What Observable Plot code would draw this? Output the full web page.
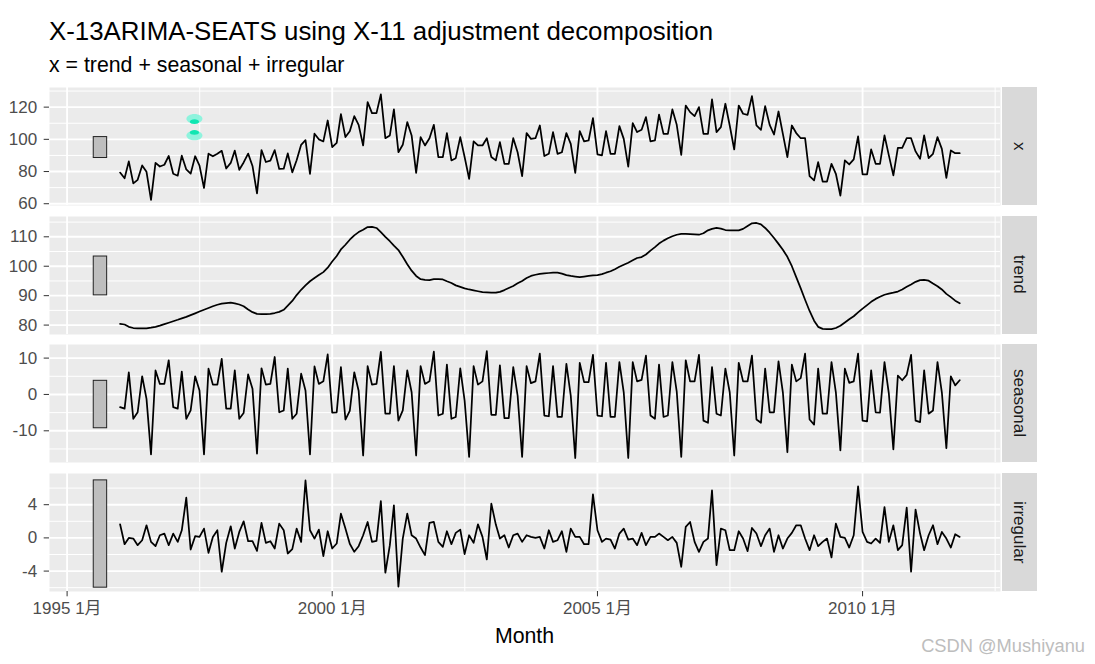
<!DOCTYPE html>
<html><head><meta charset="utf-8">
<script src="https://cdn.jsdelivr.net/npm/d3@7"></script>
<script src="https://cdn.jsdelivr.net/npm/@observablehq/plot@0.6"></script>
<style>
body{margin:0;background:#fff;}
#root{position:relative;width:1095px;height:664px;overflow:hidden;font-family:"Liberation Sans",Arial,"Noto Sans CJK SC",sans-serif;}
.abs{position:absolute;white-space:nowrap;line-height:1;}
.strip{position:absolute;background:#D9D9D9;color:#1A1A1A;font-size:17px;display:flex;align-items:center;justify-content:center;}
.strip span{writing-mode:vertical-rl;line-height:1;}
</style></head><body><div id="root"></div>
<script>
// ---------- data ----------
const titleText = "X-13ARIMA-SEATS using X-11 adjustment decomposition";
const subtitleText = "x = trend + seasonal + irregular";
const xAxisTitle = "Month";
const watermark = "CSDN @Mushiyanu";
const firstYear = 1996; // first observation 1996 Jan, monthly
const components = ["x", "trend", "seasonal", "irregular"];

const xValues = [
79.35,75.78,86.32,72.60,74.86,83.81,79.80,62.41,85.41,83.11,84.21,89.70,
78.64,77.42,89.86,81.27,78.68,89.51,83.67,69.80,91.09,89.43,91.04,92.87,
81.87,85.36,92.98,81.09,85.64,91.14,83.46,66.37,93.34,85.93,86.81,93.30,
81.59,81.77,91.24,79.45,86.99,96.6,99.5,78.6,103.5,100.0,98.7,111.7,
95.2,97.8,115.7,101.4,105.0,114.4,109.0,96.2,123.1,116.3,116.3,127.9,
100.7,102.4,118.6,92.0,96.6,110.7,102.4,79.2,101.4,96.2,100.7,109.0,
89.0,89.0,103.9,86.9,88.3,101.4,89.0,75.5,98.7,96.2,96.2,100.7,
89.0,86.9,98.3,84.8,84.8,100.7,92.0,77.1,103.9,100.3,100.7,108.6,
89.6,91.0,104.5,91.0,92.0,103.9,97.2,79.2,105.1,98.7,99.3,113.2,
90.6,90.0,105.1,91.0,91.0,108.2,100.3,83.1,110.1,104.5,105.9,113.8,
98.7,99.3,115.4,103.4,103.4,118.6,109.0,90.3,121.0,116.9,114.4,120.0,
103.4,103.4,124.8,104.5,107.6,122.1,108.6,93.7,121.0,115.9,115.2,126.8,
108.6,105.9,120.6,109.0,103.0,117.3,103.4,89.0,108.6,103.9,100.7,100.7,
77.1,74.5,85.8,73.8,73.8,84.8,78.6,65.1,86.9,84.4,87.5,101.8,
78.2,78.2,93.7,84.8,84.8,102.4,90.0,77.6,94.7,94.7,100.7,100.7,
92.5,87.9,102.4,88.3,91.0,101.4,94.1,76.1,93.1,91.4,91.4];

const trendValues = [
80.4,80.2,79.4,79.0,78.9,78.9,78.9,79.1,79.4,79.8,80.3,80.8,
81.3,81.8,82.3,82.8,83.4,84.0,84.6,85.2,85.8,86.4,86.9,87.3,
87.5,87.6,87.4,87.0,86.4,85.3,84.4,83.8,83.7,83.7,83.8,84.1,
84.5,85.2,86.6,88.2,90.2,92.0,93.5,94.9,96.0,97.0,98.0,99.5,
101.6,103.5,105.7,107.3,109.0,110.5,111.6,112.4,113.3,113.4,113.0,111.6,
110.0,108.5,107.0,105.5,103.2,100.7,98.5,96.7,95.6,95.4,95.3,95.6,
95.6,95.5,94.9,94.3,93.5,93.0,92.5,92.1,91.8,91.5,91.2,91.1,
91.0,91.0,91.3,91.9,92.6,93.3,94.2,95.0,96.0,96.7,97.1,97.4,
97.6,97.7,97.8,97.8,97.5,97.0,96.7,96.5,96.3,96.5,96.7,96.9,
97.0,97.3,97.8,98.3,99.0,99.8,100.5,101.2,102.0,102.8,103.1,104.0,
105.3,106.5,107.7,108.7,109.5,110.2,110.7,111.0,111.0,110.9,110.8,110.7,
111.2,112.2,112.7,113.0,112.8,112.3,112.2,112.2,112.2,112.7,113.7,114.6,
114.7,114.2,113.0,111.4,109.6,107.6,105.6,103.2,100.0,96.3,92.5,88.6,
84.8,81.5,79.4,78.7,78.6,78.6,79.0,79.8,80.9,82.0,83.0,84.3,
85.6,86.8,87.9,88.9,89.6,90.3,90.7,91.0,91.4,92.1,93.0,93.8,
94.7,95.3,95.4,95.1,94.1,93.2,92.1,90.6,89.5,88.3,87.4];

const seasonalValues = [
-3.5,-3.9,6.1,-6.7,-4.9,5.0,-1.2,-16.5,6.6,2.9,2.9,9.4,
-3.5,-3.9,6.3,-6.7,-4.4,5.0,1.1,-16.5,7.1,2.7,2.7,9.8,
-3.9,-3.9,6.6,-6.7,-5.1,5.5,1.6,-16.3,7.2,2.7,2.9,10.3,
-4.9,-4.4,7.1,-6.7,-5.3,5.7,1.1,-16.5,7.7,2.9,3.6,11.0,
-5.0,-4.9,7.5,-6.9,-4.5,6.1,1.0,-16.8,7.8,2.7,2.9,11.7,
-5.3,-5.3,7.8,-7.2,-4.4,6.6,0.6,-16.8,7.8,2.9,3.6,11.8,
-5.8,-5.3,8.2,-6.7,-6.2,7.2,-1.7,-17.2,7.8,2.7,3.6,11.9,
-5.6,-5.6,8.0,-6.5,-6.5,7.5,-0.3,-17.2,7.8,3.1,3.6,11.2,
-5.8,-6.0,7.8,-6.2,-6.2,8.4,-0.3,-17.5,8.7,3.4,3.4,10.9,
-5.8,-6.0,8.7,-6.2,-6.2,8.9,0.6,-17.5,8.9,3.6,4.0,10.7,
-5.8,-6.7,8.2,-6.2,-5.8,8.9,0.8,-17.2,9.4,3.6,3.6,10.9,
-7.2,-7.8,7.5,-5.3,-5.8,7.1,0.6,-16.8,8.7,3.6,3.6,10.7,
-6.9,-7.8,7.1,-4.9,-4.9,9.1,0.6,-15.9,8.2,3.6,4.5,11.2,
-6.9,-8.3,7.1,-5.3,-5.3,8.9,0.6,-15.4,7.1,3.2,3.6,11.2,
-7.2,-7.4,6.6,-4.9,-5.0,8.9,0.2,-15.1,5.2,3.9,5.4,10.9,
-7.2,-7.6,6.6,-5.3,-4.4,8.9,0.6,-14.8,5.0,2.5,3.9];

const irregularValues = [
1.64,-0.76,0,-0.08,-0.88,-0.28,1.52,-0.48,-1.0,0.32,0.52,-0.88,
0.52,-0.48,0.92,4.84,-1.4,0.2,0.12,1.12,-1.8,0.12,0.92,-4.08,
-0.6,1.4,-1.28,0.72,2.0,-0.4,-0.4,-1.56,1.8,-0.6,-0.4,-1.28,
1.72,0.92,-1.88,-1.36,1.12,-0.48,6.92,0.92,-0.08,1.0,-2.2,0.8,
-1.28,-0.68,2.92,1.12,-0.7,-1.68,-1.0,0.32,1.92,-0.48,-0.36,4.44,
-4.2,-0.88,3.92,-5.88,-0.08,2.92,0.32,-0.08,-1.16,-2.08,1.8,1.92,
-0.48,-1.08,0.8,-0.76,0.6,1.0,-1.96,0.32,-0.6,1.64,0.12,-2.6,
4.12,1.6,-0.08,0.32,-1.16,0.32,0.52,-0.48,0.32,0.12,0,0.12,
-1.28,0.92,-0.48,-0.28,0.8,-1.68,1.12,0.12,0.12,-0.76,-0.76,5.24,
0.92,-0.48,-0.08,-0.2,-1.28,0.52,1.12,-0.2,-0.08,-0.88,0.6,-0.88,
0.12,0.12,0.52,0.12,-0.28,0.12,-0.6,-3.48,1.32,1.92,-0.48,-1.68,
-0.48,-0.08,5.72,-3.28,1.12,0.92,-1.48,-1.48,0.8,-0.08,-1.6,1.2,
0.52,-1.0,0.32,1.12,-1.68,0.32,-1.28,-0.08,0.6,1.52,1.52,-0.08,
-1.48,0.32,-1.0,-0.48,-0.08,-2.36,1.72,0.12,0,-1.16,0.32,6.2,
0.72,-0.48,-0.68,-0.08,-0.6,3.72,-0.48,1.52,-1.48,-0.88,3.64,-4.08,
3.4,0.52,-1.48,0.32,1.52,-0.76,0.72,-0.08,-1.16,0.44,0.12];

// scale bars (one per panel, same data height)
const rangeBarLow  = [88.4, 90.1, -9.3, -6.0];
const rangeBarHigh = [101.4, 103.3, 3.75, 6.93];

// tick values
const xTickYears = [1995, 2000, 2005, 2010];
const xMinorYears = [1997.5, 2002.5, 2007.5, 2012.5];
const yTicksMajor = [[60,80,100,120],[80,90,100,110],[-10,0,10],[-4,0,4]];
const yTicksMinor = [[70,90,110,130],[85,95,105,115],[-15,-5,5],[-6,-2,2,6]];

// hourglass overlay seen in the first panel
const overlayYear = 1997.40;
const overlayOuter = [112.8, 102.4];
const overlayInner = [111.0, 104.3];

// ---------- helpers / layout ----------
function yearToDate(y){const yr=Math.floor(y);const t0=Date.UTC(yr,0,1),t1=Date.UTC(yr+1,0,1);return new Date(t0+(y-yr)*(t1-t0));}
const FONT = '"Liberation Sans", Arial, "Noto Sans CJK SC", sans-serif';
const root = document.getElementById("root");
const seriesList = [xValues, trendValues, seasonalValues, irregularValues];
const dates = xValues.map((_, i) => new Date(Date.UTC(firstYear, i, 1)));
const H = 118;
const tops = [87, 215.7, 344.4, 473.1];
const yDomains = [[58.9,132.2],[76.8,116.9],[-18.72,13.74],[-6.46,7.76]];
const xDomain = [yearToDate(1994.668), yearToDate(2012.601)];
const majorX = xTickYears.map(y => new Date(Date.UTC(y,0,1)));
const minorX = xMinorYears.map(yearToDate);
const barX1 = yearToDate(1995.503), barX2 = yearToDate(1995.756);

const ellipse = (ratio) => ({draw(ctx,size){const rx=Math.sqrt(size/Math.PI),ry=rx*ratio,k=0.5523;
  ctx.moveTo(rx,0);ctx.bezierCurveTo(rx,ry*k,rx*k,ry,0,ry);ctx.bezierCurveTo(-rx*k,ry,-rx,ry*k,-rx,0);
  ctx.bezierCurveTo(-rx,-ry*k,-rx*k,-ry,0,-ry);ctx.bezierCurveTo(rx*k,-ry,rx,-ry*k,rx,0);ctx.closePath();}});

function addDiv(cls, text, css){const d=document.createElement("div");d.className=cls;d.textContent=text;Object.assign(d.style,css);root.appendChild(d);return d;}

addDiv("abs", titleText, {left:"49px", top:"18.5px", fontSize:"25.85px", color:"#000"});
addDiv("abs", subtitleText, {left:"49px", top:"55px", fontSize:"21.3px", color:"#000"});

seriesList.forEach((vals, k) => {
  const isLast = k === 3;
  const data = vals.map((v, i) => ({date: dates[i], value: v}));
  const marks = [
    Plot.frame({fill:"#EBEBEB", stroke:null}),
    Plot.gridY(yTicksMinor[k], {stroke:"#fff", strokeOpacity:1, strokeWidth:1.0}),
    Plot.gridX(minorX, {stroke:"#fff", strokeOpacity:1, strokeWidth:1.0}),
    Plot.gridY(yTicksMajor[k], {stroke:"#fff", strokeOpacity:1, strokeWidth:1.9}),
    Plot.gridX(majorX, {stroke:"#fff", strokeOpacity:1, strokeWidth:1.9}),
    Plot.axisY(yTicksMajor[k], {anchor:"left", tickSize:5.3, tickPadding:7, stroke:"#333333", fill:"#4D4D4D", fontSize:17, tickFormat:d=>String(d), label:null}),
    Plot.rect([{x1:barX1, x2:barX2, y1:rangeBarLow[k], y2:rangeBarHigh[k]}], {x1:"x1", x2:"x2", y1:"y1", y2:"y2", fill:"#BEBEBE", stroke:"#222", strokeWidth:1}),
    Plot.line(data, {x:"date", y:"value", stroke:"#000", strokeWidth:1.75})
  ];
  if (isLast) {
    marks.push(Plot.axisX(majorX, {anchor:"bottom", tickSize:5.3, tickPadding:5.6, stroke:"#333333", fill:"#4D4D4D", fontSize:17, tickFormat:d=>`${d.getUTCFullYear()} 1月`, label:null}));
  }
  if (k === 0) {
    const d = yearToDate(overlayYear);
    marks.push(Plot.dot(overlayOuter.map(v=>({date:d, value:v})), {x:"date", y:"value", r:8, symbol:ellipse(0.6), fill:"#84F4DC", fillOpacity:0.9, stroke:null}));
    marks.push(Plot.dot(overlayInner.map(v=>({date:d, value:v})), {x:"date", y:"value", r:4.6, symbol:ellipse(0.5), fill:"#10E6B2", stroke:null}));
  }
  const plot = Plot.plot({
    width: 1002, height: H + (isLast ? 40 : 0),
    marginLeft: 49, marginRight: 2, marginTop: 0, marginBottom: isLast ? 40 : 0,
    x: {type:"utc", domain:xDomain, axis: isLast ? undefined : null},
    y: {domain:yDomains[k]},
    style: {fontFamily: FONT, fontSize:"17px", background:"transparent", overflow:"visible"},
    marks
  });
  const wrap = document.createElement("div");
  Object.assign(wrap.style, {position:"absolute", left:"0px", top: tops[k]+"px"});
  wrap.appendChild(plot);
  root.appendChild(wrap);
  const s = addDiv("strip", "", {left:"1002px", top: tops[k]+"px", width:"35px", height: H+"px"});
  const sp = document.createElement("span"); sp.textContent = components[k]; s.appendChild(sp);
});

addDiv("abs", xAxisTitle, {left:"524.5px", top:"625.5px", fontSize:"21.3px", color:"#000", transform:"translateX(-50%)"});
addDiv("abs", watermark, {right:"10px", top:"637px", fontSize:"18.3px", color:"#BDBDBD"});
</script></body></html>
